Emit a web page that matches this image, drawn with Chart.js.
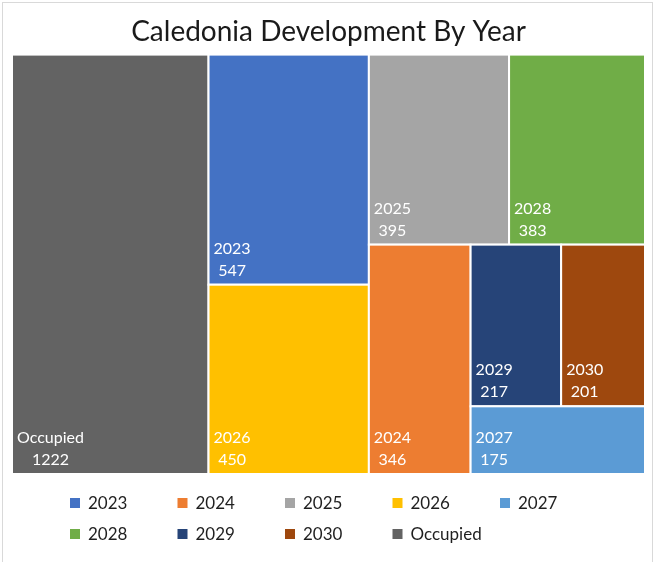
<title>Caledonia Development By Year</title>
<script src="https://cdn.jsdelivr.net/npm/chart.js@4"></script>
<style>
    body{ margin:0; background:#fff; }
    .wrap{ position:relative; width:654px; height:562px; }
</style>
<div class="wrap">
    <canvas id="myChart"></canvas>
</div>
<script>

    // data (legend order)
    const categories = ['2023', '2024', '2025', '2026', '2027', '2028', '2029', '2030', 'Occupied']
    const values = [547, 346, 395, 450, 175, 383, 217, 201, 1222]
    const colors = ['#4472C4', '#ED7D31', '#A5A5A5', '#FFC000', '#5B9BD5', '#70AD47', '#264478', '#9E480E', '#636363']

    const TARGET = 0.618   // preferred width/height of a cell

    // squarified layout, works in 0..1 data units, aspect from pixels
    function squarify(idx, pxW, pxH){
        const out = []
        let r = {x:0, y:0, w:1, h:1}
        let remaining = idx.reduce((s,i)=>s+values[i], 0)
        let i = 0

        function place(row, r, remaining){
            const vertical = r.w*pxW >= r.h*pxH
            const rowSum = row.reduce((s,k)=>s+values[k], 0)
            const frac = rowSum/remaining
            const cells = []
            let off = 0
            for(const k of row){
                const part = values[k]/rowSum
                if(vertical){
                    cells.push({k:k, x:r.x, y:r.y+off*r.h, w:r.w*frac, h:r.h*part})
                }else{
                    cells.push({k:k, x:r.x+off*r.w, y:r.y, w:r.w*part, h:r.h*frac})
                }
                off += part
            }
            const rest = vertical
                ? {x:r.x+r.w*frac, y:r.y, w:r.w*(1-frac), h:r.h}
                : {x:r.x, y:r.y+r.h*frac, w:r.w, h:r.h*(1-frac)}
            return {cells, rest}
        }

        function score(row){
            const p = place(row, r, remaining)
            let worst = 0
            for(const c of p.cells){
                const d = Math.abs(Math.log((c.w*pxW)/(c.h*pxH)) - Math.log(TARGET))
                if(d > worst) worst = d
            }
            return worst
        }

        while(i < idx.length){
            let row = [idx[i]]
            let best = score(row)
            let j = i+1
            while(j < idx.length){
                const s = score(row.concat(idx[j]))
                if(s > best) break
                best = s
                row.push(idx[j])
                j++
            }
            const p = place(row, r, remaining)
            out.push(...p.cells)
            remaining -= row.reduce((s,k)=>s+values[k], 0)
            r = p.rest
            i = j
        }
        return out
    }

    const treemapPlugin = {
        id: 'treemap',
        beforeDraw(chart){
            const c = chart.ctx
            c.save()
            c.fillStyle = '#fff'
            c.fillRect(0, 0, chart.width, chart.height)
            c.strokeStyle = '#D9D9D9'
            c.lineWidth = 1
            c.strokeRect(2.5, 2.5, chart.width-4, chart.height+10)
            c.restore()
        },
        afterDraw(chart){
            const c = chart.ctx
            const xs = chart.scales.x, ys = chart.scales.y
            const area = chart.chartArea
            const order = values.map((v,i)=>i).sort((a,b)=>values[b]-values[a])
            const cells = squarify(order, area.right-area.left, area.bottom-area.top)

            c.save()
            for(const cell of cells){
                const x0 = xs.getPixelForValue(cell.x)
                const x1 = xs.getPixelForValue(cell.x+cell.w)
                const y0 = ys.getPixelForValue(cell.y)
                const y1 = ys.getPixelForValue(cell.y+cell.h)
                c.fillStyle = colors[cell.k]
                c.fillRect(x0, y0, x1-x0, y1-y0)
                c.strokeStyle = '#fff'
                c.lineWidth = 2
                c.strokeRect(x0, y0, x1-x0, y1-y0)

                // labels: name then value, centred on each other
                c.fillStyle = '#fff'
                c.font = '16px Lato'
                c.textBaseline = 'middle'
                c.textAlign = 'center'
                const nw = c.measureText(categories[cell.k]).width
                const cx = x0 + 5 + nw/2
                c.fillText(categories[cell.k], cx, y1-36)
                c.fillText(String(values[cell.k]), cx, y1-14)
            }

            // legend, 5 per row
            c.font = '17px Lato'
            c.textAlign = 'left'
            c.textBaseline = 'middle'
            for(let i=0; i<categories.length; i++){
                const col = i % 5, row = Math.floor(i/5)
                const bx = 70 + col*107.5
                const by = 503 + row*31
                c.fillStyle = colors[i]
                c.fillRect(bx, by-5, 10, 10)
                c.fillStyle = '#1f1f1f'
                c.fillText(categories[i], bx+18, by+1)
            }
            c.restore()
        }
    }

    const ctx = document.getElementById('myChart')

    const chart = new Chart(ctx, {
        type: 'scatter',
        data: {
            datasets: categories.map((cat,i)=>({label: cat, data: [], backgroundColor: colors[i]}))
        },
        options: {
            responsive: true,
            maintainAspectRatio: false,
            animation: false,
            layout: {
                padding: {left: 12, right: 9, top: 0, bottom: 88}
            },
            scales: {
                x: {type: 'linear', min: 0, max: 1, display: false},
                y: {type: 'linear', min: 0, max: 1, reverse: true, display: false}
            },
            plugins: {
                legend: {display: false},
                tooltip: {enabled: false},
                title: {
                    display: true,
                    text: 'Caledonia Development By Year',
                    color: '#1a1a1a',
                    font: {family: 'Lato', size: 28, weight: 'normal'},
                    padding: {top: 15, bottom: 6}
                }
            }
        },
        plugins: [treemapPlugin]
    })

</script>
